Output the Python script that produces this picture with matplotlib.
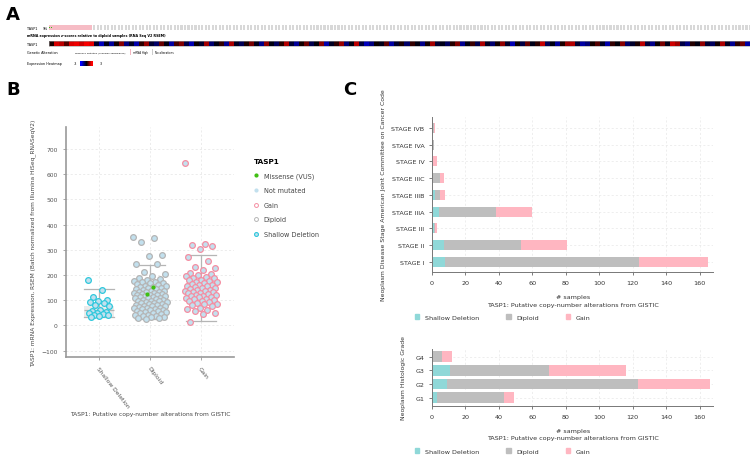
import numpy as np
import matplotlib
matplotlib.use("Agg")
import matplotlib.pyplot as plt
from matplotlib.colors import LinearSegmentedColormap
from matplotlib.lines import Line2D
from matplotlib.patches import Patch

W, H = 750, 456

# ---- Panel A data ----
n_missense = 2
n_gain = 29
n_unaltered = 469
# mRNA z-scores, one value per block of samples (left to right)
heat_z = [0.3, 2.5, 2.2, 1.0, 2.6, 2.8, 2.4, 2.9, 2.7, -0.5,
          -2.2, -0.3, -1.8, 0.2, 1.6, -1.5, -0.4, -2.0, 0.5, 1.8,
          -0.6, -1.2, 1.2, -0.2, -1.9, 0.8, 1.5, -0.8, -2.1, 0.1,
          -0.5, 1.9, -1.3, -0.2, 0.6, -1.7, 2.0, -0.4, -1.0, 0.3,
          1.4, -0.3, -1.6, 1.7, -0.2, -1.1, 0.4, 2.1, -0.6, -1.8,
          0.2, 1.3, -0.9, -0.1, 1.6, -2.0, -0.4, 0.5, 1.8, -1.4,
          -0.2, 2.2, -0.7, -2.2, -1.5, 0.1, -0.3, 1.1, -1.9, -0.5,
          0.3, -1.2, 0.6, -0.2, -1.6, 0.2, 1.9, -0.6, -0.3, -1.1,
          0.4, 1.5, -1.7, -0.2, 0.7, -0.9, 2.0, -0.4, -1.3, 0.2,
          1.7, -0.5, -2.1, 0.1, -0.8, 1.2, -0.3, 0.5, 2.3, -1.0,
          -0.2, -1.8, 0.3, 1.8, 2.1, -0.6, -1.9, -1.4, 0.2, 1.0,
          -0.4, -2.0, 0.6, -0.1, 1.6, -1.2, -0.5, 0.3, 2.2, -0.7,
          -1.6, 0.1, 1.4, -0.3, 2.4, 1.9, -0.8, -1.5, 0.4, -0.2,
          1.7, -0.6, -1.1, 0.2, 2.0, -0.4, -1.7, 0.5, 1.3, -1.9]

# ---- Panel B data ----
cna_groups = ["Shallow Deletion", "Diploid", "Gain"]
shallow_vals = [182, 140, 112, 100, 97, 92, 88, 80, 77, 63, 58, 55, 51, 48,
                45, 42, 40, 37, 34]
diploid_vals = [352, 346, 331, 279, 275, 245, 243, 212, 203, 196, 189, 183,
                180, 176, 174, 171, 168, 167, 163, 161, 158, 156, 154, 151,
                149, 147, 145, 143, 141, 138, 137, 134, 133, 131, 129, 127,
                126, 124, 122, 120, 119, 116, 115, 113, 112, 110, 108, 107,
                104, 102, 101, 99, 97, 96, 93, 92, 90, 88, 87, 85, 83, 82,
                79, 78, 76, 73, 71, 70, 68, 66, 64, 62, 60, 58, 56, 54, 52,
                50, 48, 45, 43, 41, 39, 36, 34, 32, 30, 28, 26]
diploid_missense = [151, 126]
gain_vals = [645, 322, 320, 316, 302, 273, 257, 232, 226, 221, 210, 204, 200,
             197, 194, 190, 187, 182, 179, 176, 173, 171, 168, 165, 162, 160,
             158, 155, 152, 150, 147, 145, 142, 140, 138, 136, 134, 131, 129,
             127, 125, 122, 120, 118, 116, 113, 111, 108, 106, 104, 101, 98,
             96, 93, 90, 87, 84, 80, 76, 71, 66, 60, 56, 50, 46, 15]
box_q1 = [33, 76, 103]
box_med = [60, 111, 136]
box_q3 = [79, 142, 175]
box_lo = [33, 25, 16]
box_hi = [144, 240, 279]

# ---- Panel C data ----
stage_labels = ["STAGE I", "STAGE II", "STAGE III", "STAGE IIIA", "STAGE IIIB",
                "STAGE IIIC", "STAGE IV", "STAGE IVA", "STAGE IVB"]
stage_shallow = [8, 7, 1, 4, 2, 0, 0, 0, 0]
stage_diploid = [116, 46, 1, 34, 3, 5, 0, 1, 1]
stage_gain = [41, 28, 1, 22, 3, 2, 3, 0, 1]
grade_labels = ["G1", "G2", "G3", "G4"]
grade_shallow = [3, 9, 11, 0]
grade_diploid = [40, 114, 59, 6]
grade_gain = [6, 43, 46, 6]

c_teal = "#8fd8d8"
c_gray = "#bebebe"
c_pink = "#ffb6c1"

fig = plt.figure(figsize=(7.5, 4.56), dpi=100)


def px_axes(left, top, right, bottom):
    return fig.add_axes([left / W, 1 - bottom / H, (right - left) / W, (bottom - top) / H])


def ftext(x, y, s, **kw):
    return fig.text(x / W, 1 - y / H, s, **kw)


# panel letters
ftext(13, 15, "A", fontsize=13, fontweight="bold", va="center", ha="center")
ftext(13, 90, "B", fontsize=13, fontweight="bold", va="center", ha="center")
ftext(350, 90, "C", fontsize=13, fontweight="bold", va="center", ha="center")

# ================= Panel A =================
tiny = 2.4
ax_top = px_axes(49, 26, 750, 31)
n_tot = n_missense + n_gain + n_unaltered
idx = np.arange(n_tot)
alt = n_missense + n_gain
ax_top.bar(idx[:alt], np.ones(alt), width=0.95, color="#f6bcc5", linewidth=0)
ax_top.bar(idx[alt:], np.ones(n_unaltered), width=0.6, color="#d8d8d8", linewidth=0)
ax_top.bar(idx[:n_missense], np.full(n_missense, 0.35), bottom=0.33, width=0.6,
           color="#33bb11", linewidth=0)
ax_top.set_xlim(-0.5, n_tot - 0.5)
ax_top.set_ylim(0, 1)
ax_top.axis("off")
ftext(27, 28.5, "TASP1", fontsize=tiny, va="center")
ftext(43, 28.5, "9%", fontsize=tiny, va="center")
ftext(27, 36.5, "mRNA expression z-scores relative to diploid samples (RNA Seq V2 RSEM)",
      fontsize=tiny, va="center", fontweight="bold")

cmap = LinearSegmentedColormap.from_list("bkr", ["#0000ff", "#000000", "#ff0000"])
ax_heat = px_axes(49, 42, 750, 47)
ax_heat.imshow(np.array([heat_z]), aspect="auto", cmap=cmap, vmin=-3, vmax=3,
               interpolation="nearest")
ax_heat.set_xticks([])
ax_heat.set_yticks([])
for s in ax_heat.spines.values():
    s.set_color("#999999")
    s.set_linewidth(0.4)
ftext(27, 44.5, "TASP1", fontsize=tiny, va="center")

ftext(27, 53, "Genetic Alteration", fontsize=tiny, va="center")
ax_leg = px_axes(70, 50, 180, 56)
ax_leg.set_xlim(70, 180)
ax_leg.set_ylim(0, 1)
ax_leg.axis("off")
ax_leg.bar([73], [0.5], bottom=0.25, width=0.6, color="#33bb11")
ax_leg.bar([130.5], [1], width=1.2, color="#f4b6c0")
ax_leg.bar([152.5], [1], width=0.8, color="#cccccc")
ftext(75, 53, "Missense Mutation (unknown significance)", fontsize=1.75, va="center")
ftext(133, 53, "mRNA High", fontsize=1.9, va="center")
ftext(155, 53, "No alterations", fontsize=1.9, va="center")

ftext(27, 64, "Expression Heatmap", fontsize=tiny, va="center")
ftext(74, 64, "-3", fontsize=tiny, va="center")
ftext(100, 64, "3", fontsize=tiny, va="center")
ax_cb = px_axes(80, 61.5, 93, 66.5)
ax_cb.imshow(np.array([[-3, -1.5, 0, 1.5, 3]]), aspect="auto", cmap=cmap, vmin=-3, vmax=3,
             interpolation="bilinear")
ax_cb.axis("off")

# ================= Panel B =================
axb = px_axes(66, 128, 234, 358)
fill_blue = "#c2e0ee"
group_vals = [shallow_vals, diploid_vals, gain_vals]
edge_cols = ["#2fc8dc", "#b5b5b5", "#f58ea2"]
spreads = [0.22, 0.33, 0.32]

stats = []
for i in range(3):
    stats.append(dict(med=box_med[i], q1=box_q1[i], q3=box_q3[i],
                      whislo=box_lo[i], whishi=box_hi[i], fliers=[]))
axb.bxp(stats, positions=[1, 2, 3], widths=0.6, patch_artist=True,
        boxprops=dict(facecolor="#ebebeb", edgecolor="none"),
        medianprops=dict(color="#b5b5b5", linewidth=0.9),
        whiskerprops=dict(color="#b5b5b5", linewidth=0.9),
        capprops=dict(color="#b5b5b5", linewidth=0.9), capwidths=0.6, zorder=1)

for i, vals in enumerate(group_vals):
    n = len(vals)
    offs = (((np.arange(n) * 0.618034) % 1.0) - 0.5) * 2 * spreads[i]
    axb.scatter(i + 1 + offs, vals, s=17, facecolor=fill_blue, edgecolor=edge_cols[i],
                linewidth=0.9, zorder=3)
axb.scatter([2.05, 1.95], diploid_missense, s=9, color="#3fbf12", zorder=4, linewidth=0)

axb.set_xlim(0.35, 3.65)
axb.set_ylim(-125, 787)
axb.set_yticks(range(-100, 701, 100))
axb.set_xticks([1, 2, 3])
axb.set_xticklabels(cna_groups, rotation=-52, ha="left", va="top", rotation_mode="anchor")
axb.tick_params(labelsize=4.3, colors="#555555", length=2.5, width=0.6, color="#999999")
axb.grid(True, linestyle=(0, (3, 3)), color="#e4e4e4", linewidth=0.5)
axb.set_axisbelow(True)
for s in ["top", "right"]:
    axb.spines[s].set_visible(False)
for s in ["left", "bottom"]:
    axb.spines[s].set_color("#999999")
    axb.spines[s].set_linewidth(1.2)
ftext(33, 243, "TASP1: mRNA Expression, RSEM (Batch normalized from Illumina HiSeq_RNASeqV2)",
      rotation=90, fontsize=4.2, color="#444444", va="center", ha="center")
ftext(150, 415, "TASP1: Putative copy-number alterations from GISTIC", fontsize=4.3,
      color="#444444", va="center", ha="center")

leg_handles = [
    Line2D([], [], ls="", marker="o", markersize=2.0, mfc="#3fbf12", mec="#3fbf12"),
    Line2D([], [], ls="", marker="o", markersize=2.0, mfc=fill_blue, mec=fill_blue),
    Line2D([], [], ls="", marker="o", markersize=2.8, mfc="none", mec="#f58ea2", mew=0.7),
    Line2D([], [], ls="", marker="o", markersize=2.8, mfc="none", mec="#b5b5b5", mew=0.7),
    Line2D([], [], ls="", marker="o", markersize=2.8, mfc=fill_blue, mec="#2fc8dc", mew=0.8),
]
leg = fig.legend(leg_handles, ["Missense (VUS)", "Not mutated", "Gain", "Diploid",
                               "Shallow Deletion"],
                 loc="upper left", bbox_to_anchor=(248 / W, 1 - 153 / H), frameon=False,
                 title="TASP1", fontsize=4.7, title_fontsize=5.2, labelspacing=1.3,
                 handlelength=0.8, handletextpad=0.7, alignment="left")
leg.get_title().set_fontweight("bold")
for t in leg.get_texts():
    t.set_color("#444444")


# ================= Panel C =================
def stacked(ax, labels, sh, dp, gn, height):
    y = np.arange(len(labels))
    ax.barh(y, sh, height=height, color=c_teal, zorder=2)
    ax.barh(y, dp, left=sh, height=height, color=c_gray, zorder=2)
    left2 = [a + b for a, b in zip(sh, dp)]
    ax.barh(y, gn, left=left2, height=height, color=c_pink, zorder=2)
    ax.set_yticks(y)
    ax.set_yticklabels(labels)
    ax.set_xlim(0, 168)
    ax.set_xticks(range(0, 161, 20))
    ax.tick_params(labelsize=4.6, colors="#333333", length=2, width=0.6, color="#666666")
    ax.grid(True, linestyle=(0, (3, 3)), color="#e8e8e8", linewidth=0.5)
    ax.set_axisbelow(True)
    for s in ["top", "right"]:
        ax.spines[s].set_visible(False)
    for s in ["left", "bottom"]:
        ax.spines[s].set_color("#777777")
        ax.spines[s].set_linewidth(0.7)


axc1 = px_axes(432, 118, 713, 273)
stacked(axc1, stage_labels, stage_shallow, stage_diploid, stage_gain, 0.6)
axc1.set_ylim(-0.6, 8.65)
axc2 = px_axes(432, 350, 713, 407)
stacked(axc2, grade_labels, grade_shallow, grade_diploid, grade_gain, 0.77)
axc2.set_ylim(-0.6, 3.55)

ftext(383, 195, "Neoplasm Disease Stage American Joint Committee on Cancer Code",
      rotation=90, fontsize=4.4, color="#333333", va="center", ha="center")
ftext(404, 378, "Neoplasm Histologic Grade", rotation=90, fontsize=4.4,
      color="#333333", va="center", ha="center")
for yy in (298, 432):
    ftext(573, yy, "# samples", fontsize=4.6, color="#333333", va="center", ha="center")
    ftext(573, yy + 7, "TASP1: Putative copy-number alterations from GISTIC", fontsize=4.6,
          color="#333333", va="center", ha="center")

c_handles = [Patch(color=c_teal), Patch(color=c_gray), Patch(color=c_pink)]
for yy in (318, 452):
    lg = fig.legend(c_handles, ["Shallow Deletion", "Diploid", "Gain"], ncol=3,
                    loc="center left", bbox_to_anchor=(409 / W, 1 - yy / H), frameon=False,
                    fontsize=4.6, handlelength=0.7, handleheight=0.7, handletextpad=0.9,
                    columnspacing=4.2)
    for t in lg.get_texts():
        t.set_color("#333333")

fig.savefig("out.png", dpi=100)
